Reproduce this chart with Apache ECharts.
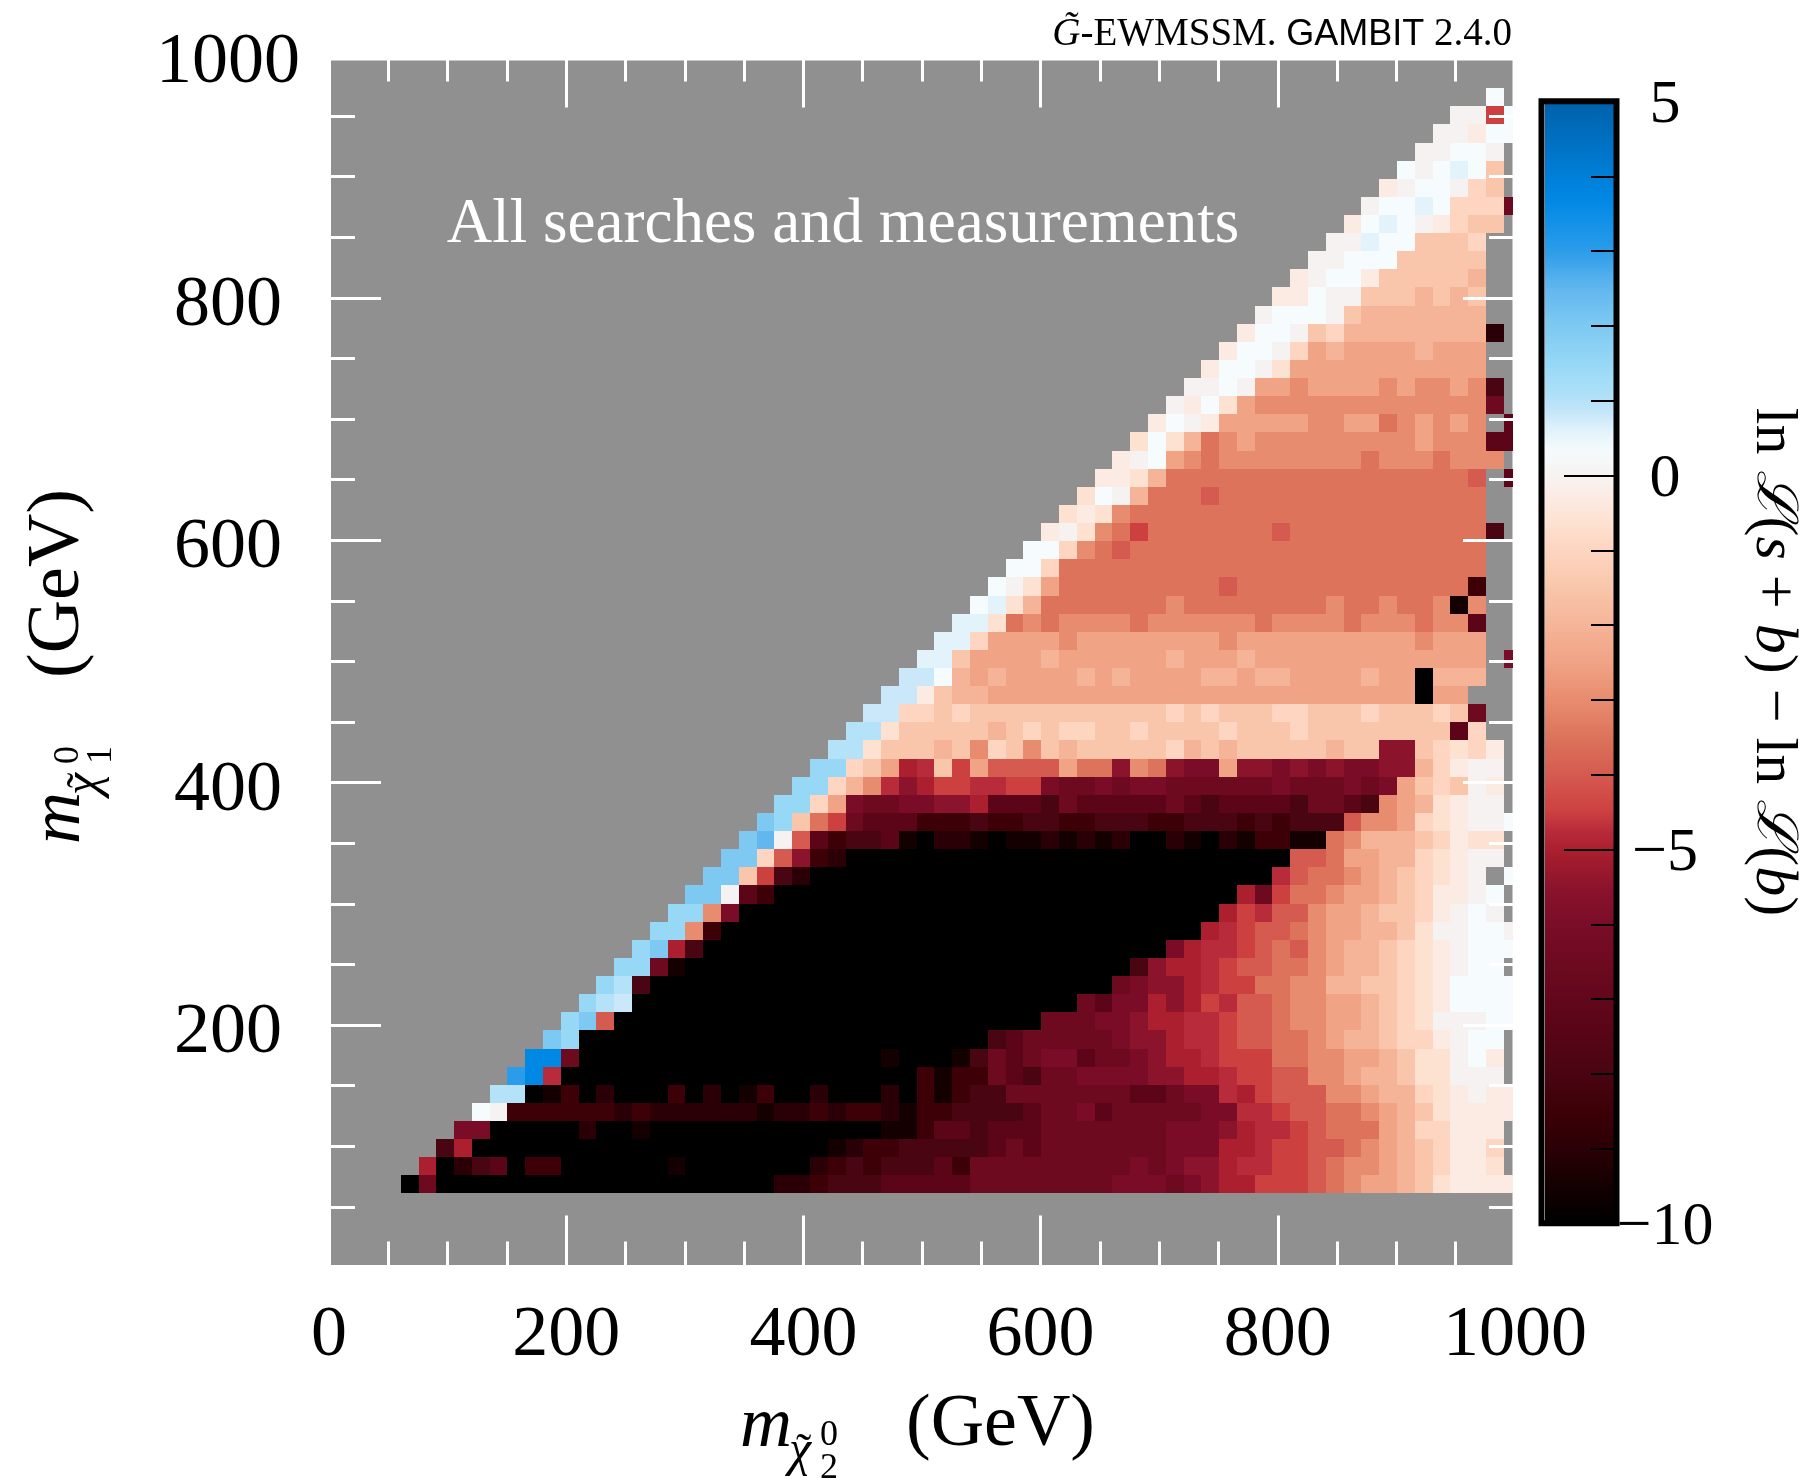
<!DOCTYPE html>
<html><head><meta charset="utf-8">
<style>html,body{margin:0;padding:0;background:#fff}#c{width:1812px;height:1478px}</style>
<script src="https://cdn.jsdelivr.net/npm/echarts@6/dist/echarts.min.js"></script>
</head><body><div id="c"></div>
<script>
// Level letter -> value of ln L(s+b) - ln L(b); '.' = no data
const levelValues = {K:-10,J:-9.5,I:-9,H:-8.5,G:-8,F:-7.3,E:-6.5,D:-6,C:-5.5,B:-5,A:-4.75,a:-4.5,b:-4,c:-3.5,d:-3,e:-2.5,f:-2,g:-1.5,h:-1,i:-0.6,j:-0.3,k:0,l:0.3,m:0.6,n:0.8,o:1,p:1.5,q:2,r:2.5,s:3,t:3.7};
// Each row, bottom to top: letter + optional repeat count, one token per run of bins
const rowRuns = [
".0 K E K19 I2 H G3 F5 E8 D3 E D C B2 a3 b c d e2 f g i j4",
".1 B K I G F K H2 K6 J K7 I H G H G3 F H E2 E4 E3 D E D C2 B A2 a2 b c d2 e f g h j2 i .",
".2 G B K20 J I H2 G3 G2 F E F E7 D3 B2 A a2 b2 c d e f g h j2 h .",
".3 D2 K5 I K2 J K13 J2 H F2 G F3 E4 E3 D3 C B A2 a b c3 e f h2 j3 .",
".4 l k H6 I H I6 J I2 H I H2 I J H2 G3 G F E2 D F E2 E3 D2 A2 a b2 c2 d e f g i j4",
".5 o2 K J H K I K3 H K I K J H K2 I K3 I K H J H G2 E2 E4 E F F E D2 A B a b3 d2 e f2 h i j k j2",
".6 s t A K20 H J H2 E F G E2 D3 D C2 B2 A a2 b2 d2 e f2 g i2 k3 .",
".7 t2 E K17 J K3 J G E F E D2 F E2 D C B2 A a3 c2 d2 e2 f g i2 k l j .",
".8 q p K23 G F E2 E3 D C2 B A2 a b2 c2 d e f2 g h2 j k l2 .",
".9 p q b K24 E E2 D2 C B2 A2 a b2 c d2 e2 f g h i k3 l2",
".10 p o n K25 E F D2 B C B a A b2 c d2 e2 f g h i j l4",
".11 p o G K26 E D C2 B A a2 c2 d2 f2 g2 h i j l4",
".12 p2 E J K25 G C B2 A a b2 c2 d e f2 g h i j k l2 .",
".13 p q B G K26 D B A2 a b c b d e f2 g h i j k l3",
".14 p2 d H K27 B A a b2 c d e2 f2 g i k2 l2 k",
".15 p2 d D K27 B a A b2 d e2 f g2 h j k l k .",
".16 q2 k F H K26 B E a c2 d e2 f g h j2 k l .",
".17 q2 g a G I K26 A b c2 d e f g h i j k . l",
".18 q2 h b C H I K25 b2 c e2 f2 h i j k2 .",
".19 q r k b F H G2 F J K I2 J K J2 I J I J I K2 I J K I J H2 J2 c d f3 g h j i2 .",
".20 q p g c a E F F2 H H2 G H H G2 H2 G2 G H2 G G2 H G H G G2 b d2 e h i j k2 l",
".21 p2 h e D E2 D2 C2 B F3 G E F2 F F2 E F G F3 F G E2 F G d e f i j k2 .",
".22 p2 h f d A C B a2 A2 a2 D E2 D E D2 E4 E2 D E3 D E D e g h g k j .",
".23 p2 h g e B A g a e b4 e c2 C d c C D2 e C2 D C D C D2 C2 f h j k2 .",
".24 o2 i g3 f g d h g d g f g5 h f g f g5 f g2 C2 g h i h j .",
".25 o2 i g5 f g h g h2 g2 h g4 h g3 h g8 F h . .",
".26 n2 h2 g h g11 h g h g3 h2 g3 h g3 h g E . .",
".27 n2 j g f2 e24 K e2 . . .",
".28 n2 l f e f e4 f e f e4 f2 e f2 e4 f e2 K f3 . .",
".29 m2 g e4 f e4 e2 f e3 f e13 . D",
".30 m2 h e4 d e3 e5 d e10 d e3 . .",
".31 m2 i c d c d4 c d6 c d4 c d3 c d2 F . .",
".32 l m i f c5 c2 d c8 d c2 d c2 d J d . .",
".33 l k i e c4 c5 b c13 H . .",
".34 l2 h c24 . .",
".35 l2 h d c b c20 . .",
".36 j k i d c a c7 b c11 G .",
".37 i j i d c20 . .",
".38 i l k f c3 b c15 . .",
".39 j2 i f c17 b . F",
".40 j k l e d c d8 c d3 c d3 .",
".41 i l i f c d e d9 e d3 F F",
".42 j l k j e5 d2 e2 c d e d e d . F",
".43 k j l i e d13 E .",
".44 k2 l k e2 d e4 d e d2 e d G .",
".45 j l2 k i e11 . .",
".46 j l2 k h e f e4 f e3 . .",
".47 j l2 k g h f8 I .",
".48 k l3 k g f7 . .",
".49 j2 l k2 g3 f g f g . .",
".50 j k l2 j g g4 f . .",
".51 k2 l3 g5 . .",
".52 k2 m l2 g3 h . .",
".53 j l m l k j h g2 .",
".54 k l2 m l h3 E",
".55 j k l2 k h g .",
".56 l k l m l g .",
".57 k2 l2 k .",
".58 k2 j l2",
".59 k2 a l",
".61 l"
];
const xBinStart = 60.5, xBinStep = 15, yBinStart = 61, yBinStep = 14.95, binClipX = 998;
const colorAnchors = [[-10,'#000000'],[-9.5,'#140000'],[-9,'#2a0006'],[-8.5,'#3c0006'],[-8,'#4a0512'],[-7.3,'#5c0518'],[-6.5,'#6d0a20'],[-6,'#7a0c28'],[-5.5,'#8c132c'],[-5,'#ab1f2e'],[-4.75,'#b82b3a'],[-4.5,'#cd4040'],[-4,'#d55a50'],[-3.5,'#dc735a'],[-3,'#e88c6f'],[-2.5,'#f1a385'],[-2,'#f5b498'],[-1.5,'#f9c6ab'],[-1,'#fdd5c0'],[-0.6,'#fde2d2'],[-0.3,'#fcebe3'],[0,'#f6f2f1'],[0.3,'#f6fbfd'],[0.6,'#e2f3fb'],[0.8,'#cae8f9'],[1,'#b3e2f9'],[1.5,'#96d8f6'],[2,'#7dc9f2'],[2.5,'#62b7ef'],[3,'#2b9cea'],[3.7,'#0088e5'],[5,'#0060aa']];

const hex = c => [1,3,5].map(i => parseInt(c.substr(i,2),16));
function colorAt(v){
  for(let i=1;i<colorAnchors.length;i++){
    const [a,ca]=colorAnchors[i-1],[b,cb]=colorAnchors[i];
    if(v<=b+1e-9){const t=(v-a)/(b-a),A=hex(ca),B=hex(cb);
      return 'rgb('+A.map((x,k)=>Math.round(x+(B[k]-x)*t)).join(',')+')';}
  }
  return colorAnchors[colorAnchors.length-1][1];
}
const scaleColors=[];for(let i=0;i<=300;i++)scaleColors.push(colorAt(-10+i*0.05));

const cells=[];
rowRuns.forEach((row,r)=>{
  const toks=row.split(' ');
  let c=parseInt(toks[0].slice(1),10);
  toks.slice(1).forEach(t=>{
    const n=t.length>1?parseInt(t.slice(1),10):1, L=t[0];
    for(let k=0;k<n;k++){
      if(L!=='.')cells.push([xBinStart+c*xBinStep,yBinStart+r*yBinStep,levelValues[L]]);
      c++;
    }
  });
});

const SERIF='"Liberation Serif"';
function massLabel(x,y,rot,digit){
  const t=(text,dx,dy,size,italic)=>({type:'text',x:dx,y:dy,z:20,style:{text,fill:'#000',font:(italic?'italic ':'')+size+'px '+SERIF,textAlign:'left',textVerticalAlign:'middle'}});
  return {type:'group',x,y,rotation:rot,z:20,children:[
    t('m',0,-18,72,true),
    t('\u03c7',49,7,50,true),
    t('\u02dc',56,8,46,false),
    t('0',80,-9,36,false),
    t(digit,80,24,36,false),
    t('(GeV)',166,-19,74,false)
  ]};
}
const chart=echarts.init(document.getElementById('c'),null,{renderer:'canvas'});
const whiteTicks=()=>({
  axisLine:{show:false,onZero:false},
  splitLine:{show:false},
  axisTick:{show:true,inside:true,length:52,lineStyle:{color:'#fff',width:3}},
  minorTick:{show:true,splitNumber:4,length:26,lineStyle:{color:'#fff',width:3}},
  minorSplitLine:{show:false}
});
const labelFont={fontFamily:SERIF,fontSize:72,color:'#000'};
chart.setOption({
  animation:false,
  backgroundColor:'#fff',
  grid:[
    {left:329,top:55.4,width:1186,height:1212},
    {left:1545,top:101.5,width:69,height:1122}
  ],
  xAxis:[
    Object.assign({type:'value',gridIndex:0,position:'bottom',min:0,max:1000,interval:200,z:5,
      axisLabel:Object.assign({show:true,margin:33,align:'center',showMinLabel:true,showMaxLabel:true,formatter:v=>String(v)},labelFont)},whiteTicks()),
    Object.assign({type:'value',gridIndex:0,position:'top',min:0,max:1000,interval:200,z:5,axisLabel:{show:false}},whiteTicks()),
    {type:'value',gridIndex:1,show:false,min:0,max:1}
  ],
  yAxis:[
    Object.assign({type:'value',gridIndex:0,position:'left',min:0,max:1000,interval:200,z:5,
      axisLabel:Object.assign({show:true,margin:101,align:'center',verticalAlign:'top',lineHeight:16,formatter:v=>v===0?'':String(v)},labelFont)},whiteTicks()),
    Object.assign({type:'value',gridIndex:0,position:'right',min:0,max:1000,interval:200,z:5,axisLabel:{show:false}},whiteTicks()),
    {type:'value',gridIndex:1,position:'right',min:-10,max:5,interval:5,z:6,
      axisLine:{show:false,onZero:false},splitLine:{show:false},
      axisTick:{show:true,inside:true,length:50,lineStyle:{color:'#000',width:2}},
      minorTick:{show:true,splitNumber:5,length:23,lineStyle:{color:'#000',width:2}},
      axisLabel:{show:true,margin:51,align:'center',verticalAlign:'top',lineHeight:8,fontFamily:SERIF,fontSize:62,color:'#000',
        formatter:v=>String(v).replace('-','\u2212')}}
  ],
  visualMap:{type:'continuous',seriesIndex:0,dimension:2,min:-10,max:5,show:true,calculable:false,realtime:false,hoverLink:false,
    left:1545,top:101.5,itemWidth:69,itemHeight:1122,padding:0,text:null,showLabel:false,
    inRange:{color:scaleColors},outOfRange:{color:'#000'},textStyle:{color:'#fff',fontSize:1}},
  series:[{
    type:'custom',coordinateSystem:'cartesian2d',xAxisIndex:0,yAxisIndex:0,clip:false,z:2,silent:true,
    dimensions:['x','y','v'],encode:{x:0,y:1},
    data:cells,
    renderItem:(p,api)=>{
      const x=api.value(0),y=api.value(1);
      const a=api.coord([x,y]),b=api.coord([Math.min(x+xBinStep,binClipX),y+yBinStep]);
      const x0=Math.round(a[0]),x1=Math.round(b[0]),y0=Math.round(a[1]),y1=Math.round(b[1]);
      return {type:'rect',shape:{x:x0,y:y1,width:x1-x0,height:y0-y1},style:{fill:api.visual('color')}};
    }
  }],
  graphic:[
    {type:'rect',z:-10,silent:true,shape:{x:331,y:60.5,width:1181.5,height:1204.5},style:{fill:'#909090'}},
    {type:'rect',z:30,silent:true,shape:{x:1541.5,y:101.3,width:75,height:1122},style:{fill:'none',stroke:'#000',lineWidth:6}},
    {type:'text',z:20,silent:true,x:1512,y:35,style:{
      text:'{i|G\u0303}{r|-EWMSSM. }{s|GAMBIT}{r| 2.4.0}',textAlign:'right',textVerticalAlign:'middle',fill:'#000',
      rich:{i:{font:'italic 39px '+SERIF},r:{font:'39px '+SERIF},s:{font:'36px "Liberation Sans"'}}}},
    {type:'text',z:20,silent:true,x:843,y:225,style:{text:'All searches and measurements',fill:'#fff',font:'63px '+SERIF,textAlign:'center',textVerticalAlign:'middle'}},
    massLabel(740,1445,0,'2'),
    massLabel(78,844,Math.PI/2,'1'),
    {type:'text',z:20,silent:true,x:1773,y:662,rotation:-Math.PI/2,style:{
      text:'{r|ln }{l|\u2112}{r|(}{i|s}{r| + }{i|b}{r|) \u2212 ln }{l|\u2112}{r|(}{i|b}{r|)}',textAlign:'center',textVerticalAlign:'middle',fill:'#000',
      rich:{r:{font:'60px '+SERIF},i:{font:'italic 60px '+SERIF},l:{font:'italic 56px "DejaVu Serif"'}}}}
  ]
});
</script></body></html>
